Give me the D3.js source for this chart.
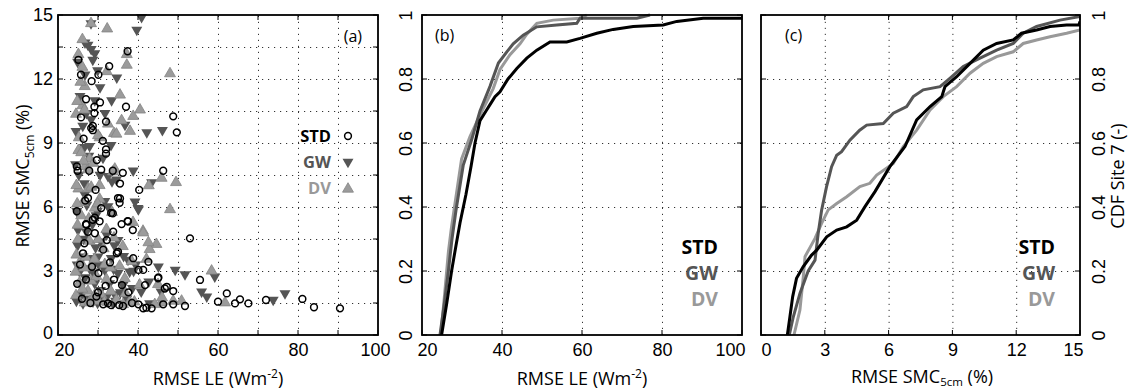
<!DOCTYPE html>
<html>
<head>
<meta charset="utf-8">
<script src="https://cdn.jsdelivr.net/npm/d3@7"></script>
<style>
  html, body { margin: 0; padding: 0; background: #fff; }
  svg { display: block; font-family: "Open Sans", "Noto Sans", sans-serif; }
  .grid line { stroke: #333; stroke-width: 1; stroke-dasharray: 1.2 4.8; }
  .grid .domain { display: none; }
  .ticklab .domain, .ticklab line { display: none; }
  .ticklab text { font-size: 18px; fill: #000; }
</style>
</head>
<body>
<svg id="chart" width="1130" height="391"></svg>
<script>
// ---- panel (a): scatter of RMSE LE vs RMSE SMC5cm ----
const stdLE = [25.1, 25.75, 28.4, 30.1, 32.8, 37.4, 27, 30.5, 29.1, 37, 25.75, 29.1, 28.7, 28.7, 32, 31.2, 32, 32,
    48.8, 49.7, 24.7, 24.9, 27.8, 33.7, 36.2, 46.3, 35.5, 40.3, 28.3, 30.8, 35, 33.3, 37.5, 35.4, 27.5, 30.8, 29.2,
    27.1, 30.4, 35.5, 33.7, 35.9, 37.4, 38.7, 33.8, 32.2, 27, 28.7, 53, 34.7, 38.8, 42.6, 40.1, 41.3, 45.1, 41.75,
    47.2, 48.8, 55.5, 36, 31.3, 35.3, 36.25, 40.1, 41.3, 43.4, 46.3, 48.8, 51.75, 60, 62.2, 64.25, 65.5, 67.6, 72,
    81.1, 84, 90.5, 27.5, 29.2, 26.25, 35, 45, 46.7, 42.1, 32.5, 33.3, 30, 27, 28.5,
    24.8, 26, 28.1, 29.6, 31.9, 34, 37.6, 38.5, 25.5, 30.1, 33, 26.6, 31.3, 26.8, 29.4, 24.7, 26.4, 29.7];
const stdSMC = [12.9, 12.2, 11.9, 12.2, 12.6, 13.3, 11.05, 10.9, 10.7, 10.7, 10.2, 10.4, 9.8, 9.6, 10, 9.1, 8.7, 8.5,
    10.25, 9.5, 7.9, 7.7, 7.7, 7.7, 7.6, 7.7, 7.1, 6.8, 9.7, 7.75, 6.42, 5.72, 5.33, 6.2, 6.42, 5.95, 5.5,
    5.17, 5.33, 6.4, 5.7, 5.2, 5.34, 4.92, 4.84, 4.45, 5.2, 5.4, 4.53, 3.83, 3.6, 3.43, 3.05, 3.05, 2.7, 2.34,
    2.26, 2.06, 2.58, 2.34, 1.44, 1.4, 1.36, 1.44, 1.25, 1.25, 1.44, 1.44, 1.36, 1.56, 1.95, 1.48, 1.67, 1.48, 1.64,
    1.69, 1.3, 1.25, 4.84, 4.77, 3.83, 3.9, 2.66, 2.18, 1.28, 1.48, 1.4, 2.0, 2.6, 3.2,
    2.4, 1.7, 1.5, 1.8, 2.3, 2.6, 2.0, 1.5, 3.3, 2.9, 3.4, 4.3, 4.0, 6.3, 6.8, 5.8, 9.2, 8.2];

const gwLE = [40.9, 39.7, 28.25, 26.75, 27.5, 28.3, 29.2, 28.7, 26.75, 34.7, 30.5, 29.2, 33.4, 31.75, 36.75, 42.2,
    46.1, 33.25, 26.6, 27.7, 38.8, 43.4, 30.5, 25.2, 33.5, 26.6, 28.3, 24.5, 27.9, 31.25, 32.5, 34.6, 40, 31.7,
    32.5, 26.7, 39.25, 40.1, 45.1, 49.3, 51.75, 55.9, 59.2, 57.2, 73.8, 76.75, 45.75, 42.7, 25, 27.1, 30.8, 35,
    26.25, 28.3, 30, 33.3, 37.5, 25.4, 27.9, 31.7, 35, 37.9, 25.8, 29.2, 32.9, 36.25, 26.25, 28.75, 33.75, 31.25,
    40.8, 42.9, 24.8, 29.5, 34.2,
    24.6, 25.9, 27.3, 29.9, 30.6, 32.2, 34.4, 35.6, 37.2, 38.6, 39.4, 24.8, 26.8, 28.9, 30.2, 33.9, 36.4, 38.9,
    24.9, 26.4, 29.4, 32.1, 34.1, 28.6, 24.7, 27.2, 29.8, 24.4, 25.5, 27.1, 24.9, 26.2, 29.9];
const gwSMC = [14.9, 14.3, 14.6, 13.7, 13.6, 13.4, 13.2, 12.9, 12.2, 12.06, 11.6, 11.0, 11.0, 10.4, 9.85, 9.5,
    9.6, 8.9, 8.8, 8.4, 7.7, 7.15, 7.5, 7.5, 7.2, 7.1, 10.1, 9.55, 8.85, 8.3, 7.44, 7.28, 5.95, 6.27,
    6.03, 6.58, 6.25, 5.89, 3.2, 3.05, 2.84, 2.03, 2.73, 1.8, 1.64, 1.95, 2.03, 2.5, 4.93, 4.84, 4.38, 4.45,
    3.67, 3.6, 3.67, 3.6, 3.52, 2.97, 3.12, 3.05, 2.9, 2.97, 2.34, 2.42, 2.42, 2.34, 1.48, 1.56, 1.48, 1.64,
    2.03, 1.48, 1.7, 5.6, 1.9,
    1.6, 1.9, 1.7, 1.5, 2.1, 1.8, 1.6, 2.0, 1.7, 2.2, 3.3, 3.3, 2.7, 2.9, 3.3, 3.1, 3.7, 3.0,
    4.2, 4.5, 4.1, 4.7, 4.2, 5.2, 5.8, 6.1, 5.8, 8.0, 11.2, 10.4, 12.8, 9.8, 12.4];

const dvLE = [28.25, 32.3, 26.1, 25.1, 37.2, 37.2, 26.1, 26.7, 32.2, 35.5, 26.1, 26.6, 40.5, 35.9, 38.8, 38, 34,
    30.4, 25.2, 25.1, 48, 26.75, 27.5, 33.75, 42.7, 45.9, 49.5, 25.1, 27.5, 30, 34.6, 32.5, 25.8, 27.9, 34.2,
    24.6, 28.3, 30.4, 26.25, 30.4, 38.75, 25.8, 25, 27.9, 30, 32.1, 25.4, 28.3, 31.7, 35.4, 25.4, 28.3, 32.1,
    27.5, 30.8, 26.7, 30, 36.25, 37.9, 41.25, 44.6, 42.9, 45, 45.8, 44.2, 42.1, 48, 41.3, 42.6, 58.4, 61.75,
    46, 48.8, 50.9, 24.8, 29.2,
    24.5, 26.1, 27.9, 29.1, 31.6, 33.2, 34.6, 36.9, 39.1, 40.4, 24.4, 26.5, 29.6, 33.1, 36.7, 38.4, 24.6, 26.9,
    29.1, 31.4, 34, 36.2, 24.9, 27.7, 29.9, 33.5, 24.5, 25.6, 24.8, 26.4, 28.8];
const dvSMC = [14.65, 14.4, 13.9, 13.2, 13.2, 12.7, 12.6, 11.7, 12.4, 11.3, 10.8, 10.6, 10.6, 10.1, 10.3, 9.6, 9.5,
    9.3, 9.3, 8.7, 12.3, 7.95, 7.8, 7.7, 7.05, 7.4, 7.2, 6.9, 6.9, 9.4, 9.47, 9.94, 8.6, 8.3, 7.83,
    7.06, 6.98, 7.06, 6.26, 6.42, 5.33, 5.64, 4.53, 4.45, 4.53, 5.0, 3.44, 3.28, 3.36, 3.28, 2.5, 2.58, 2.66,
    2.11, 1.95, 1.56, 1.64, 1.48, 1.6, 4.92, 4.3, 4.06, 2.42, 1.56, 1.48, 3.6, 5.93, 4.84, 4.38, 3.05, 1.56,
    1.8, 1.64, 1.64, 11.0, 6.0,
    1.9, 2.2, 1.6, 1.9, 1.6, 2.1, 1.7, 2.0, 1.6, 2.4, 3.0, 3.2, 2.8, 3.2, 2.7, 3.5, 3.8, 3.7,
    3.6, 4.1, 4.6, 4.2, 5.2, 5.5, 6.2, 5.8, 10.4, 11.9, 6.2, 8.2, 8.1];

// ---- panel (b): CDF of RMSE LE ----
const cdfLEstdX = [24.9, 26.2, 27.4, 28.5, 29.5, 31, 32.3, 33.25, 34.5, 36, 37, 38.25, 39.5, 41.5, 43.7, 46.2, 48.7,
    52, 56.2, 59.5, 63.7, 67.8, 72.8, 80.3, 83.7, 90.3, 100];
const cdfLEstdP = [0, 0.1, 0.2, 0.28, 0.35, 0.44, 0.53, 0.6, 0.67, 0.7, 0.72, 0.745, 0.76, 0.8, 0.833, 0.865, 0.89,
    0.916, 0.916, 0.927, 0.943, 0.955, 0.964, 0.969, 0.98, 0.99, 0.99];
const cdfLEgwX = [24.5, 25.6, 26.6, 27.5, 28.5, 30.3, 32.4, 34.5, 37, 39.1, 41.2, 42.8, 45.3, 48.7, 53.7, 58.7,
    59.5, 73.7, 77];
const cdfLEgwP = [0, 0.1, 0.2, 0.3, 0.39, 0.53, 0.61, 0.7, 0.777, 0.85, 0.885, 0.91, 0.937, 0.963, 0.969, 0.974,
    0.99, 0.99, 1];
const cdfLEdvX = [24.7, 25.6, 26.6, 27.3, 28, 29.9, 32, 35, 37.8, 39.5, 42, 44.5, 46.2, 48.7, 52.8, 59.5, 61.2];
const cdfLEdvP = [0, 0.12, 0.26, 0.33, 0.39, 0.55, 0.62, 0.7, 0.77, 0.83, 0.876, 0.91, 0.94, 0.974, 0.984, 0.99, 1];

// ---- panel (c): CDF of RMSE SMC5cm ----
const cdfSMCstdX = [1.24, 1.36, 1.49, 1.67, 1.98, 2.37, 2.62, 3.09, 3.56, 4.03, 4.5, 4.89, 5.36, 6.06, 6.77, 7.32,
    7.95, 8.5, 8.65, 9.2, 9.83, 10.45, 11.08, 11.86, 12.25, 12.96, 13.59, 14.37, 14.95, 15];
const cdfSMCstdP = [0, 0.057, 0.12, 0.177, 0.213, 0.249, 0.265, 0.307, 0.328, 0.338, 0.359, 0.401, 0.448, 0.526,
    0.589, 0.672, 0.714, 0.745, 0.776, 0.807, 0.849, 0.89, 0.911, 0.922, 0.943, 0.953, 0.964, 0.969, 0.969, 0.98];
const cdfSMCgwX = [1.33, 1.52, 1.83, 2.22, 2.54, 2.69, 2.85, 3.08, 3.32, 3.56, 3.79, 4.18, 4.64, 4.97, 5.75, 6.22,
    6.85, 7.16, 7.63, 8.42, 8.88, 9.51, 10.3, 11.08, 11.86, 12.33, 12.96, 14.06, 15];
const cdfSMCgwP = [0, 0.057, 0.13, 0.2, 0.234, 0.318, 0.39, 0.463, 0.526, 0.562, 0.573, 0.609, 0.64, 0.656, 0.661,
    0.693, 0.714, 0.745, 0.766, 0.776, 0.802, 0.839, 0.865, 0.89, 0.911, 0.943, 0.964, 0.984, 0.995];
const cdfSMCdvX = [1.55, 1.83, 1.99, 2.07, 2.54, 2.85, 3.16, 3.56, 4.03, 4.65, 5.12, 5.44, 6.22, 6.69, 7.32, 7.95,
    8.57, 9.2, 9.83, 10.45, 11.08, 11.86, 12.33, 12.96, 13.59, 14.37, 15];
const cdfSMCdvP = [0, 0.078, 0.182, 0.245, 0.302, 0.349, 0.391, 0.411, 0.432, 0.464, 0.474, 0.5, 0.536, 0.589,
    0.64, 0.703, 0.745, 0.776, 0.818, 0.849, 0.87, 0.885, 0.911, 0.922, 0.932, 0.943, 0.953];

const seriesNames = ['STD', 'GW', 'DV'];
const seriesColors = ['#000000', '#555555', '#999999'];

const svg = d3.select('#chart');
svg.append('rect').attr('width', 1130).attr('height', 391).attr('fill', '#fff');

const plotTop = 15, plotBottom = 335;
const xA = d3.scaleLinear().domain([20, 100]).range([58, 378]);
const yA = d3.scaleLinear().domain([0, 15]).range([plotBottom, plotTop]);
const xB = d3.scaleLinear().domain([20, 100]).range([422, 742]);
const xC = d3.scaleLinear().domain([0, 15]).range([761, 1080]);
const yP = d3.scaleLinear().domain([0, 1]).range([plotBottom, plotTop]);

function drawGrid(x, y, xGrid, yGrid) {
    const [x0, x1] = x.range();
    svg.append('g').attr('class', 'grid')
        .attr('transform', 'translate(0,' + plotBottom + ')')
        .call(d3.axisBottom(x).tickValues(xGrid).tickSize(-(plotBottom - plotTop)).tickFormat(''));
    svg.append('g').attr('class', 'grid')
        .attr('transform', 'translate(' + x0 + ',0)')
        .call(d3.axisLeft(y).tickValues(yGrid).tickSize(-(x1 - x0)).tickFormat(''));
}

function drawFrame(x, y, xTicks, yTicks) {
    const [x0, x1] = x.range();
    const g = svg.append('g');
    const tl = 5;
    xTicks.forEach(function (v) {
        g.append('line').attr('x1', x(v)).attr('x2', x(v)).attr('y1', plotBottom).attr('y2', plotBottom - tl);
        g.append('line').attr('x1', x(v)).attr('x2', x(v)).attr('y1', plotTop).attr('y2', plotTop + tl);
    });
    yTicks.forEach(function (v) {
        g.append('line').attr('x1', x0).attr('x2', x0 + tl).attr('y1', y(v)).attr('y2', y(v));
        g.append('line').attr('x1', x1).attr('x2', x1 - tl).attr('y1', y(v)).attr('y2', y(v));
    });
    g.selectAll('line').attr('stroke', '#000').attr('stroke-width', 1);
    g.append('rect').attr('x', x0).attr('y', plotTop).attr('width', x1 - x0).attr('height', plotBottom - plotTop)
        .attr('fill', 'none').attr('stroke', '#000').attr('stroke-width', 1.8);
}

// end labels sit a little inside the frame, as in the source figure
function xLabels(x, values, firstDx, lastDx) {
    const g = svg.append('g').attr('class', 'ticklab')
        .attr('transform', 'translate(0,' + plotBottom + ')')
        .call(d3.axisBottom(x).tickValues(values).tickSize(0).tickPadding(8).tickFormat(d3.format('d')));
    const n = values.length;
    g.selectAll('text').attr('dx', function (d, i) { return i === 0 ? firstDx : (i === n - 1 ? lastDx : 0); });
}

function rotatedYLabels(x0, values, shift) {
    const g = svg.append('g').attr('class', 'ticklab')
        .attr('transform', 'translate(' + x0 + ',0)')
        .call(d3.axisLeft(yP).tickValues(values).tickSize(0).tickFormat(function (d) { return String(d); }));
    g.selectAll('text').attr('x', null).attr('dy', null)
        .attr('text-anchor', 'middle')
        .attr('transform', 'translate(' + shift + ',0) rotate(-90)');
}

function xTitle(cx, supMode) {
    const t = svg.append('text').attr('x', cx).attr('text-anchor', 'middle')
        .attr('font-size', 18).attr('fill', '#000');
    if (supMode) {
        t.attr('y', 385);
        t.append('tspan').text('RMSE LE (Wm');
        t.append('tspan').attr('font-size', 12).attr('dy', -7).text('-2');
        t.append('tspan').attr('dy', 7).text(')');
    } else {
        t.attr('y', 383);
        t.append('tspan').text('RMSE SMC');
        t.append('tspan').attr('font-size', 11.5).attr('dy', 3).text('5cm');
        t.append('tspan').attr('dy', -3).text(' (%)');
    }
}

function cdfLegend(xr) {
    seriesNames.forEach(function (name, i) {
        svg.append('text').attr('x', xr).attr('y', 254 + i * 26).attr('text-anchor', 'end')
            .attr('font-size', 19.5).attr('font-weight', 'bold').attr('fill', seriesColors[i]).text(name);
    });
}

function cdfLines(x, xs, ps, clipId) {
    const [x0, x1] = x.range();
    svg.append('clipPath').attr('id', clipId).append('rect')
        .attr('x', x0).attr('y', plotTop - 2).attr('width', x1 - x0).attr('height', plotBottom - plotTop + 2);
    const line = d3.line().x(function (d) { return x(d[0]); }).y(function (d) { return yP(d[1]); });
    const g = svg.append('g').attr('clip-path', 'url(#' + clipId + ')');
    [2, 1, 0].forEach(function (i) {
        const pts = d3.zip(xs[i], ps[i]);
        g.append('path').attr('d', line(pts)).attr('fill', 'none')
            .attr('stroke', seriesColors[i]).attr('stroke-width', 3).attr('stroke-linejoin', 'miter');
    });
}

// ---------- panel (a) ----------
drawGrid(xA, yA, d3.range(30, 100, 10), d3.range(1.5, 15, 1.5));

const triShape = d3.symbol().type(d3.symbolTriangle).size(52)();
const ga = svg.append('g');
ga.selectAll('.gw').data(d3.zip(gwLE, gwSMC)).join('path')
    .attr('d', triShape)
    .attr('transform', function (d) { return 'translate(' + xA(d[0]) + ',' + yA(d[1]) + ') rotate(180)'; })
    .attr('fill', '#555');
ga.selectAll('.dv').data(d3.zip(dvLE, dvSMC)).join('path')
    .attr('d', triShape)
    .attr('transform', function (d) { return 'translate(' + xA(d[0]) + ',' + (yA(d[1]) + 1) + ')'; })
    .attr('fill', '#9b9b9b').attr('stroke', '#848484').attr('stroke-width', 0.8);
ga.selectAll('.std').data(d3.zip(stdLE, stdSMC)).join('circle')
    .attr('cx', function (d) { return xA(d[0]); })
    .attr('cy', function (d) { return yA(d[1]); })
    .attr('r', 3.4).attr('fill', 'none').attr('stroke', '#000').attr('stroke-width', 1.5);

drawFrame(xA, yA, d3.range(20, 101, 10), d3.range(0, 15.1, 1.5));

xLabels(xA, [20, 40, 60, 80, 100], 6, -3);
svg.append('g').attr('class', 'ticklab')
    .attr('transform', 'translate(58,0)')
    .call(d3.axisLeft(yA).tickValues([0, 3, 6, 9, 12, 15]).tickSize(0).tickPadding(5).tickFormat(d3.format('d')))
    .selectAll('text').attr('y', function (d) { return d === 0 ? -2 : 0; });

xTitle(218, true);
const yt = svg.append('text').attr('transform', 'translate(29,176) rotate(-90)')
    .attr('text-anchor', 'middle').attr('font-size', 18).attr('fill', '#000');
yt.append('tspan').text('RMSE SMC');
yt.append('tspan').attr('font-size', 12).attr('dy', 5).text('5cm');
yt.append('tspan').attr('dy', -5).text(' (%)');

svg.append('text').attr('x', 362).attr('y', 42).attr('text-anchor', 'end')
    .attr('font-size', 16).text('(a)');

// legend (a)
seriesNames.forEach(function (name, i) {
    const y = 142 + i * 26;
    svg.append('text').attr('x', 331).attr('y', y).attr('text-anchor', 'end')
        .attr('font-size', 16.5).attr('font-weight', 'bold').attr('fill', seriesColors[i]).text(name);
    const mx = 348, my = y - 6;
    if (i === 0) {
        svg.append('circle').attr('cx', mx).attr('cy', my).attr('r', 3.4)
            .attr('fill', 'none').attr('stroke', '#000').attr('stroke-width', 1.5);
    } else if (i === 1) {
        svg.append('path').attr('d', triShape).attr('transform', 'translate(' + mx + ',' + my + ') rotate(180)')
            .attr('fill', '#555');
    } else {
        svg.append('path').attr('d', triShape).attr('transform', 'translate(' + mx + ',' + (my + 1) + ')')
            .attr('fill', '#9b9b9b').attr('stroke', '#848484').attr('stroke-width', 0.8);
    }
});

// ---------- panel (b) ----------
drawGrid(xB, yP, [40, 60, 80], [0.2, 0.4, 0.6, 0.8]);
cdfLines(xB, [cdfLEstdX, cdfLEgwX, cdfLEdvX], [cdfLEstdP, cdfLEgwP, cdfLEdvP], 'clipB');
drawFrame(xB, yP, [20, 40, 60, 80, 100], [0, 0.2, 0.4, 0.6, 0.8, 1]);
xLabels(xB, [20, 40, 60, 80, 100], 5, -12);
rotatedYLabels(422, [0, 0.2, 0.4, 0.6, 0.8, 1], -10);
xTitle(582, true);
svg.append('text').attr('x', 435).attr('y', 41).attr('font-size', 16).text('(b)');
cdfLegend(718);

// ---------- panel (c) ----------
drawGrid(xC, yP, [3, 6, 9, 12], [0.2, 0.4, 0.6, 0.8]);
cdfLines(xC, [cdfSMCstdX, cdfSMCgwX, cdfSMCdvX], [cdfSMCstdP, cdfSMCgwP, cdfSMCdvP], 'clipC');
drawFrame(xC, yP, [0, 3, 6, 9, 12, 15], [0, 0.2, 0.4, 0.6, 0.8, 1]);
xLabels(xC, [0, 3, 6, 9, 12, 15], 5, -7);
rotatedYLabels(1080, [0, 0.2, 0.4, 0.6, 0.8, 1], 25);
xTitle(922, false);
svg.append('text').attr('transform', 'translate(1124,176) rotate(-90)')
    .attr('text-anchor', 'middle').attr('font-size', 18).text('CDF Site 7 (-)');
svg.append('text').attr('x', 785).attr('y', 41).attr('font-size', 16).text('(c)');
cdfLegend(1055);
</script>
</body>
</html>
